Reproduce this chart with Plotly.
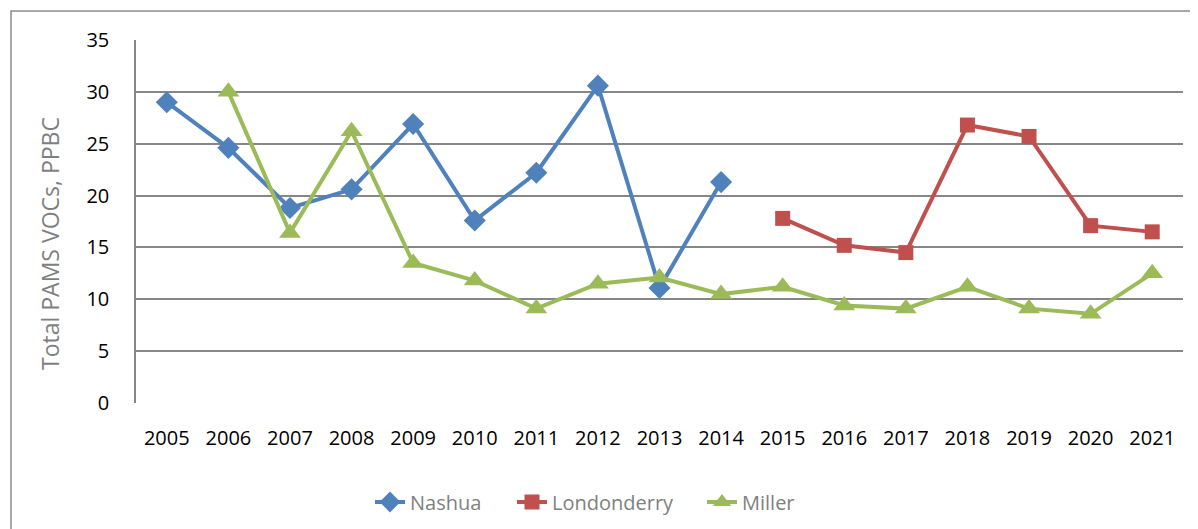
import plotly.graph_objects as go

years = [str(y) for y in range(2005, 2022)]
nashua = [29.0, 24.6, 18.8, 20.6, 26.9, 17.6, 22.2, 30.6, 11.1, 21.3,
          None, None, None, None, None, None, None]
londonderry = [None, None, None, None, None, None, None, None, None, None,
               17.8, 15.2, 14.5, 26.8, 25.7, 17.1, 16.5]
miller = [None, 30.0, 16.4, 26.2, 13.5, 11.8, 9.1, 11.5, 12.1, 10.5,
          11.2, 9.4, 9.1, 11.2, 9.1, 8.6, 12.5]
y_ticks = [0, 5, 10, 15, 20, 25, 30, 35]

OFF = 8  # page body margin
W, H = 1198 - OFF, 529 - OFF
L, T = 136 - OFF, 40 - OFF
pw, ph = 1047, 363
R, B = W - L - pw, H - T - ph

def px_x(x):
    return (x - OFF - L) / pw

def px_y(y):
    return (T + ph - (y - OFF)) / ph

FONT = "Open Sans"

fig = go.Figure()
fig.add_trace(go.Scatter(x=years, y=nashua, name="Nashua", mode="lines+markers",
                         line=dict(color="#4F81BD", width=4), legend="legend",
                         marker=dict(symbol="diamond", size=17, color="#4F81BD")))
fig.add_trace(go.Scatter(x=years, y=londonderry, name="Londonderry", mode="lines+markers",
                         line=dict(color="#C0504D", width=4), legend="legend2",
                         marker=dict(symbol="square", size=15, color="#C0504D")))
fig.add_trace(go.Scatter(x=years, y=miller, name="Miller", mode="lines+markers",
                         line=dict(color="#9BBB59", width=4), legend="legend3",
                         marker=dict(symbol="triangle-up", size=19, color="#9BBB59")))

def leg(xpx):
    return dict(orientation="h", x=px_x(xpx), xanchor="left",
                y=px_y(502), yanchor="middle",
                font=dict(family=FONT, color="#7F7F7F", size=20), itemwidth=30,
                bgcolor="rgba(0,0,0,0)")

fig.update_layout(
    width=W, height=H,
    margin=dict(l=L, r=R, t=T, b=B, autoexpand=False),
    paper_bgcolor="white", plot_bgcolor="white",
    font=dict(family=FONT, size=20, color="black"),
    showlegend=True,
    legend=leg(370), legend2=leg(512), legend3=leg(702),
    xaxis=dict(type="category", categoryorder="array", categoryarray=years,
               showgrid=False, showline=False, zeroline=False,
               ticks="", ticklabelstandoff=21, range=[-0.5, 16.5],
               tickfont=dict(family=FONT, size=20, color="black")),
    yaxis=dict(range=[0, 35], tickvals=y_ticks, showgrid=True,
               gridcolor="#868686", gridwidth=1.5,
               showline=True, linecolor="#868686", linewidth=1.5,
               zeroline=False, ticks="", ticklabelstandoff=21,
               tickfont=dict(family=FONT, size=20, color="black")),
    shapes=[dict(type="rect", xref="paper", yref="paper",
                 x0=px_x(11), x1=px_x(1230),
                 y0=px_y(560), y1=px_y(11),
                 line=dict(color="#8C8C8C", width=1.5), fillcolor="rgba(0,0,0,0)",
                 layer="below")],
    annotations=[dict(text="Total PAMS VOCs, PPBC", xref="paper", yref="paper",
                      x=px_x(50), y=px_y(244), textangle=-90,
                      showarrow=False, xanchor="center", yanchor="middle",
                      font=dict(family=FONT, size=23, color="#7F7F7F"))],
)

fig.write_html("out.html")
